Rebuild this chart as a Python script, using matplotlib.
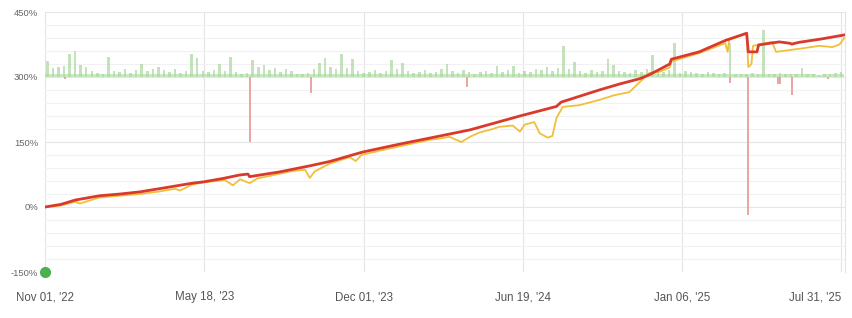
import numpy as np
import matplotlib.pyplot as plt

plt.rcParams['font.family'] = ['Liberation Sans', 'DejaVu Sans']

# x is a period index (0 = Nov 01, '22), y is cumulative return in %
red_x = [0, 20, 38, 69, 95, 120, 150, 186, 200, 225, 246, 256, 258, 296, 334, 359,
         401, 447, 485, 536, 599, 624, 645, 651, 699, 725, 750, 762, 788, 790, 825,
         859, 885, 887, 898, 900, 926, 939, 942, 951, 980, 1008]
red_y = [0, 6, 16, 26, 30, 35, 44, 55, 58, 66, 74, 76, 70, 81, 95, 105,
         127, 145, 159, 178, 210, 222, 232, 242, 270, 284, 296, 305, 330, 341, 358,
         385, 401, 358, 358, 374, 381, 378, 376, 380, 388, 397]

yel_x = [0, 19, 38, 44, 69, 120, 145, 164, 170, 186, 200, 227, 237, 246, 258, 268,
         284, 309, 328, 334, 340, 359, 384, 392, 399, 422, 447, 485, 498, 510, 525,
         536, 548, 561, 573, 590, 599, 605, 617, 624, 634, 640, 645, 653, 674, 699,
         718, 737, 750, 762, 775, 788, 790, 825, 858, 861, 863, 885, 887, 891, 893,
         917, 922, 951, 977, 993, 1002, 1008]
yel_y = [0, 3, 12, 8, 22, 30, 36, 42, 38, 52, 57, 62, 50, 64, 55, 66,
         72, 82, 86, 67, 82, 100, 115, 106, 120, 130, 140, 155, 158, 162, 150,
         162, 172, 178, 185, 188, 174, 190, 196, 170, 160, 164, 205, 231, 235, 247,
         258, 265, 288, 309, 312, 322, 336, 355, 378, 358, 386, 400, 323, 330, 372,
         381, 358, 365, 372, 369, 375, 390]

# weekly positive returns, drawn upward from the 300% baseline
gain_vals = [37, 20, 22, 25, 53, 60, 28, 22, 14, 10, 8, 46, 14, 12, 18, 10,
             16, 30, 14, 18, 22, 16, 12, 18, 10, 14, 53, 44, 14, 12, 16, 30,
             14, 46, 12, 8, 10, 39, 22, 28, 16, 20, 12, 18, 14, 8, 6, 10,
             18, 32, 44, 22, 18, 53, 20, 41, 14, 10, 12, 16, 10, 14, 39, 18,
             32, 14, 10, 12, 16, 10, 12, 18, 30, 14, 10, 16, 12, 8, 12, 14,
             10, 25, 12, 16, 25, 10, 14, 12, 18, 16, 22, 14, 20, 72, 18, 35,
             14, 10, 16, 12, 14, 41, 28, 14, 12, 10, 16, 12, 18, 51, 14, 12,
             16, 78, 10, 14, 12, 10, 8, 12, 10, 8, 10, 78, 8, 6, 8, 10,
             6, 108, 8, 6, 10, 6, 8, 6, 21, 6, 8, 5, 6, 8, 10, 12]

# negative returns, drawn downward from the 300% baseline
loss_x = [25, 258, 336, 532, 864, 887, 925, 927, 942, 988]
loss_vals = [-4, -150, -37, -23, -14, -318, -16, -16, -42, -5]

tick_pos = [0, 201, 402, 603, 804, 1004]
tick_labels = ["Nov 01, '22", "May 18, '23", "Dec 01, '23", "Jun 19, '24",
               "Jan 06, '25", "Jul 31, '25"]

base = 300
gain_x = np.arange(len(gain_vals)) * 7 + 3

fig = plt.figure(figsize=(8.52, 3.18), dpi=100)
ax = fig.add_axes([45 / 852, 1 - 272 / 318, 800 / 852, 260 / 318])

ax.bar(gain_x, gain_vals, bottom=base, width=3.2, color='#94cc85', alpha=0.55,
       linewidth=0, zorder=2)
# thin band along the baseline where the small daily bars pile up
ax.bar(gain_x, np.minimum(gain_vals, 6), bottom=base, width=7, color='#a9d99d',
       alpha=0.6, linewidth=0, zorder=2)
ax.bar(loss_x, loss_vals, bottom=base, width=2.4, color='#eca5a5', linewidth=0,
       zorder=2)

ax.plot(yel_x, yel_y, color='#f2bf3a', lw=1.3, zorder=3)
ax.plot(red_x, red_y, color='#d93a2b', lw=2.0, zorder=4)
ax.plot([0], [-150], 'o', color='#4caf50', ms=7, clip_on=False, zorder=5)

ax.set_xlim(0, 1009)
ax.set_ylim(-150, 450)
ax.set_yticks([-150, 0, 150, 300, 450])
ax.set_yticklabels(['-150%', '0%', '150%', '300%', '450%'])
ax.set_yticks(np.arange(-150, 451, 30), minor=True)
ax.set_xticks(tick_pos)
ax.set_xticklabels(tick_labels)

ax.grid(True, which='major', axis='y', color='#e6e6e6', lw=0.8, zorder=0)
ax.grid(True, which='minor', axis='y', color='#f1f1f1', lw=0.8, zorder=0)
ax.grid(True, which='major', axis='x', color='#e4e4e4', lw=0.8, zorder=0)
ax.set_axisbelow(True)

for s in ['left', 'bottom', 'top']:
    ax.spines[s].set_visible(False)
ax.spines['right'].set_color('#e4e4e4')
ax.spines['right'].set_linewidth(0.8)

ax.tick_params(axis='both', which='both', length=0)
ax.tick_params(axis='y', labelsize=6.8, labelcolor='#666666', pad=5)
ax.tick_params(axis='x', labelsize=8.3, labelcolor='#555555', pad=14)
labels = ax.get_xticklabels()
labels[-1].set_horizontalalignment('right')
labels[-1].set_x(1008)

fig.savefig('out.png', dpi=100)
